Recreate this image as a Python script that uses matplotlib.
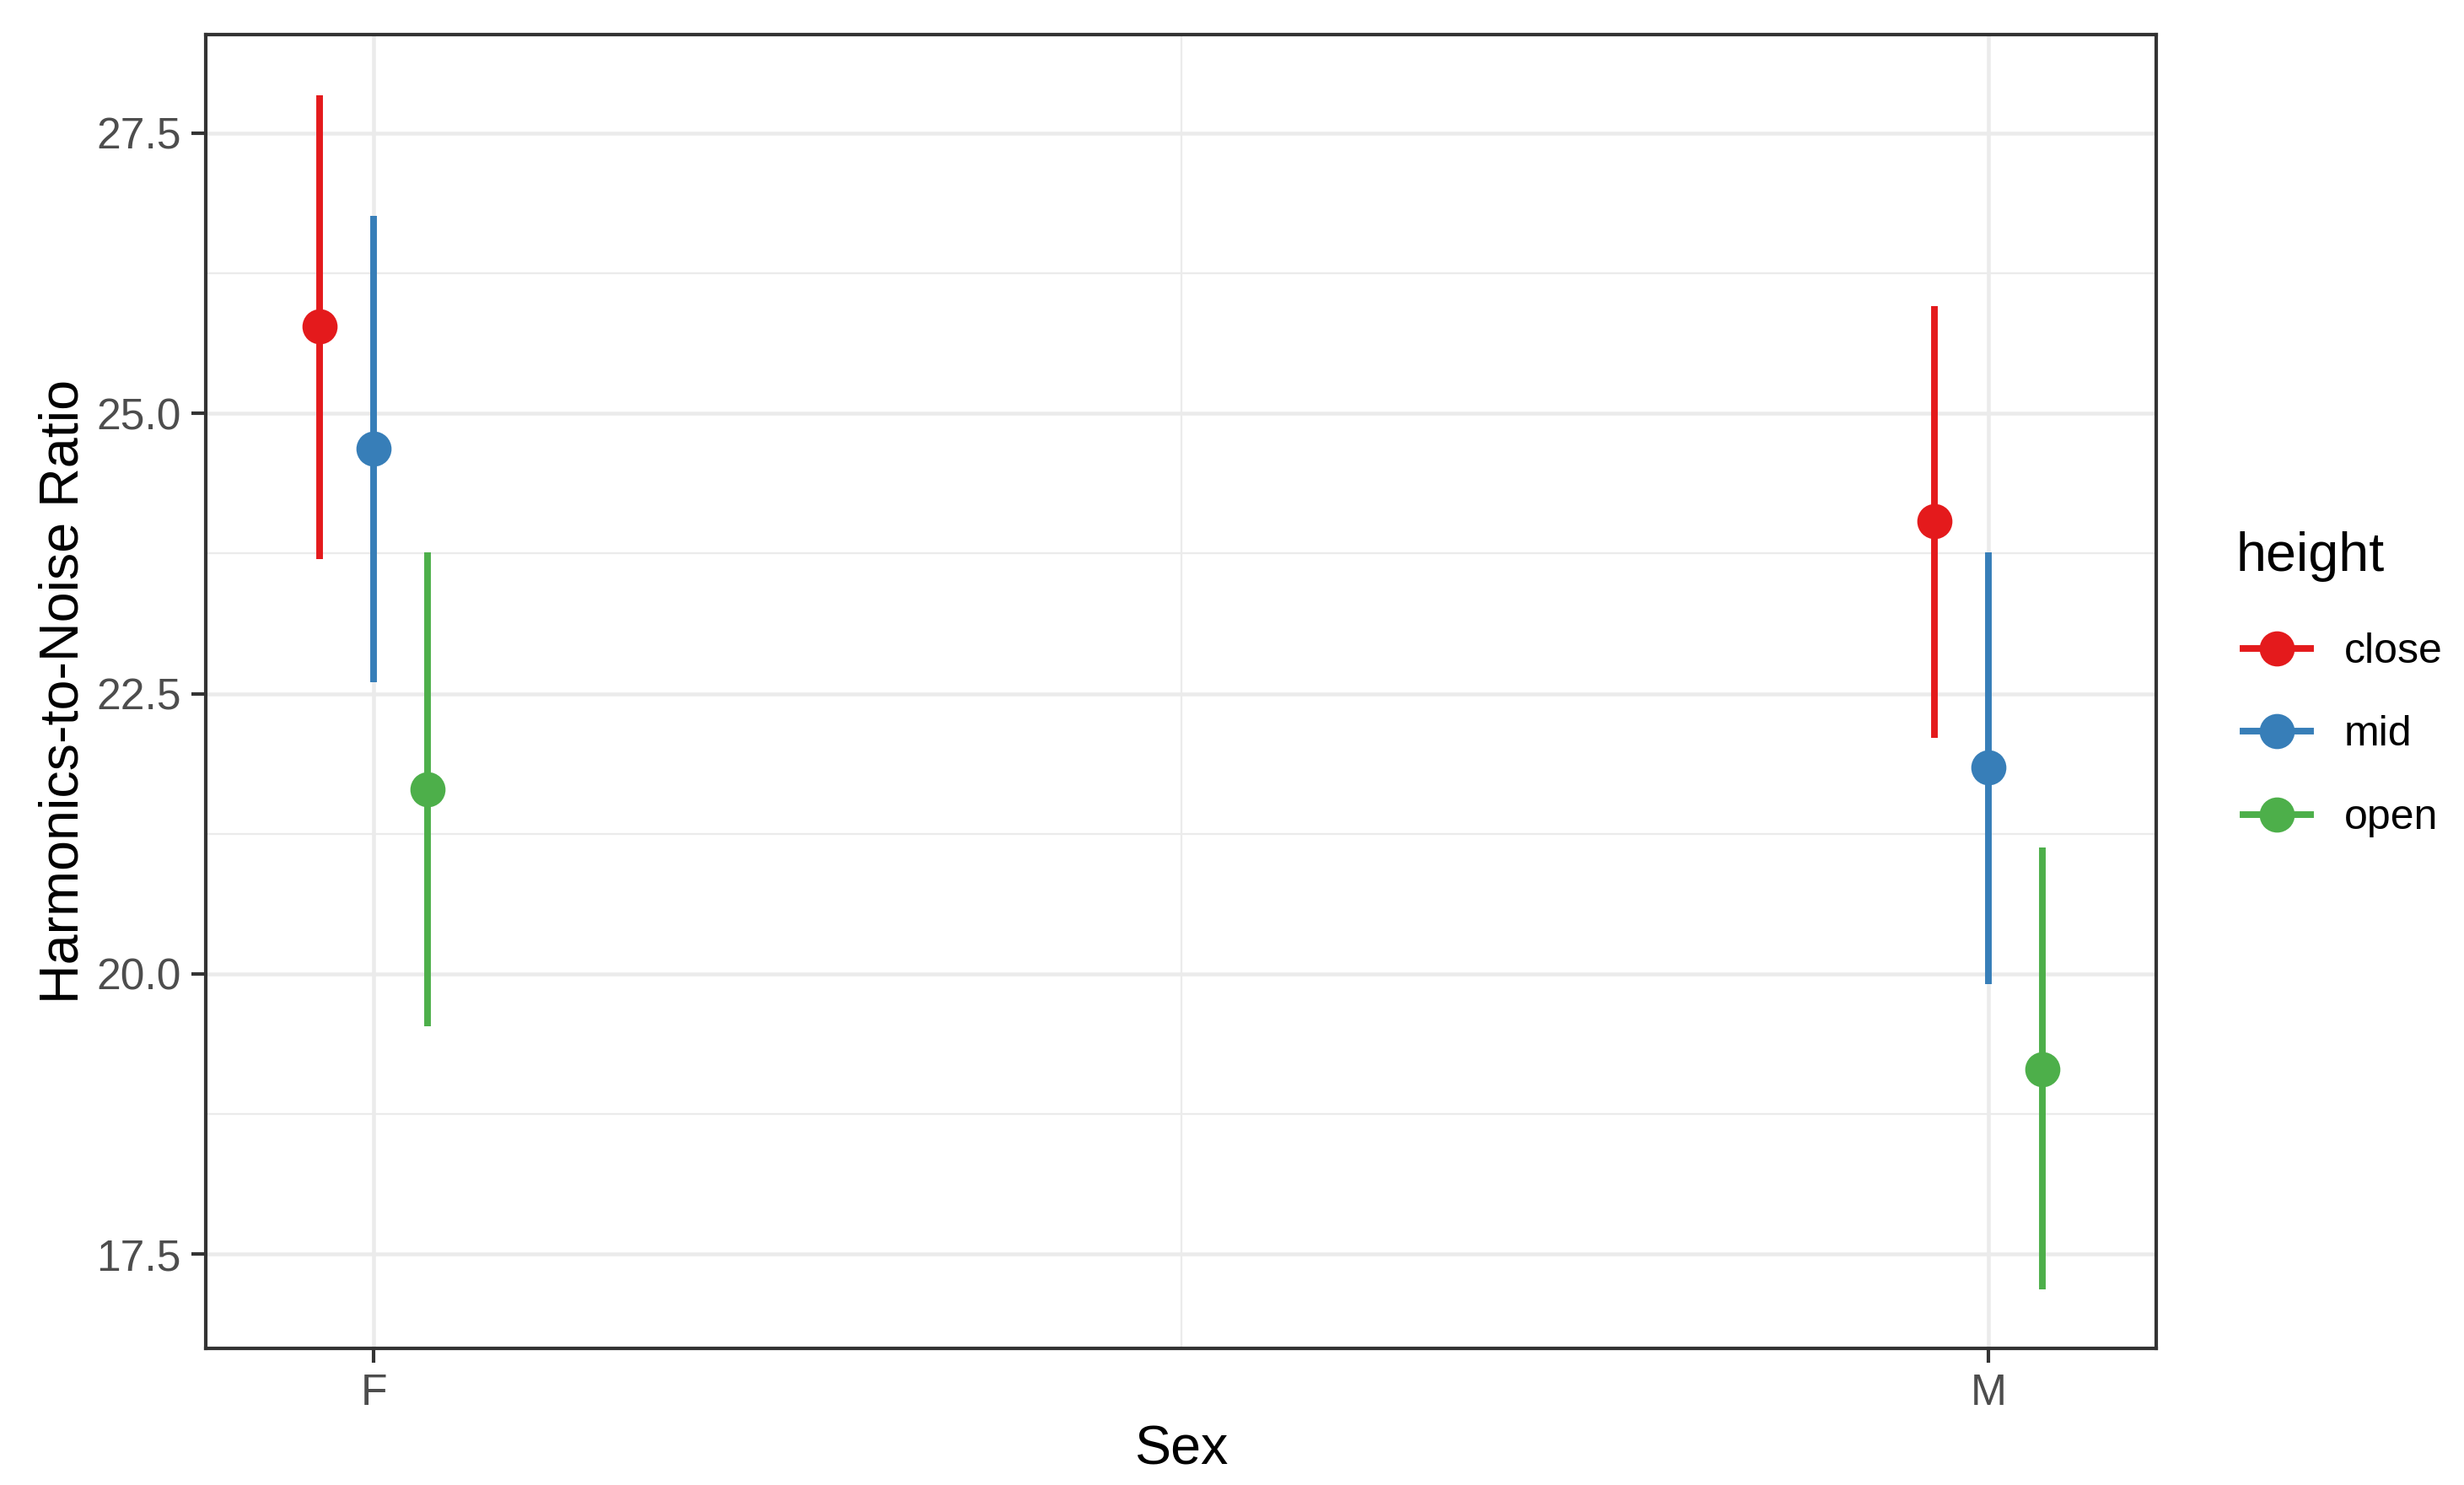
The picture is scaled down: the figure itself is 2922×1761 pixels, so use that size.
import numpy as np
import matplotlib.pyplot as plt
from matplotlib.lines import Line2D

plt.rcParams['font.family'] = ['Liberation Sans', 'DejaVu Sans']

sexes = ['F', 'M']
heights = ['close', 'mid', 'open']
colors = ['#E41A1C', '#377EB8', '#4DAF4A']

# mean, lower, upper per height, for F and M
hnr_mean = {'close': [25.78, 24.04], 'mid': [24.69, 21.84], 'open': [21.65, 19.15]}
hnr_low = {'close': [23.70, 22.11], 'mid': [22.60, 19.91], 'open': [19.53, 17.19]}
hnr_high = {'close': [27.84, 25.96], 'mid': [26.76, 23.76], 'open': [23.76, 21.13]}

fig = plt.figure(figsize=(2922 / 300, 1761 / 300), dpi=300)
ax = fig.add_axes([244 / 2922, 1 - 1599 / 1761, (2557 - 244) / 2922, (1599 - 41) / 1761])

xpos = np.arange(1, len(sexes) + 1)
dodge = 0.0333
for i, h in enumerate(heights):
    x = xpos + (i - 1) * dodge
    ax.vlines(x, hnr_low[h], hnr_high[h], color=colors[i], lw=1.9, zorder=3)
    ax.plot(x, hnr_mean[h], 'o', color=colors[i], ms=9, zorder=4)

ax.set_xlim(0.896, 2.104)
ax.set_ylim(16.66, 28.38)
ax.set_xticks(xpos)
ax.set_xticklabels(sexes)
ax.set_yticks([17.5, 20.0, 22.5, 25.0, 27.5])
ax.set_yticklabels(['17.5', '20.0', '22.5', '25.0', '27.5'])
ax.set_yticks([18.75, 21.25, 23.75, 26.25], minor=True)
ax.set_xticks([1.5], minor=True)
ax.grid(True, which='major', color='#EBEBEB', lw=1.1, zorder=0)
ax.grid(True, which='minor', color='#EBEBEB', lw=0.55, zorder=0)
ax.tick_params(which='minor', length=0)
ax.tick_params(which='major', length=4, width=1.0, color='#333333',
               labelsize=12.4, labelcolor='#4D4D4D', pad=3)
for s in ax.spines.values():
    s.set_color('#333333')
    s.set_linewidth(1.0)
ax.set_axisbelow(True)

ax.set_xlabel('Sex', fontsize=15.5, labelpad=3)
ax.set_ylabel('Harmonics-to-Noise Ratio', fontsize=15.5, labelpad=2)

fig.text(2651 / 2922, 1 - 660 / 1761, 'height', fontsize=15.5, ha='left', va='center')
handles = [Line2D([0], [0], color=c, lw=1.9, marker='o', ms=9) for c in colors]
leg = fig.legend(handles, heights, loc='upper left',
                 bbox_to_anchor=(2640 / 2922, 1 - 730 / 1761), frameon=False,
                 fontsize=12, handlelength=1.6,
                 labelspacing=1.05, handletextpad=0.8, borderaxespad=0)

fig.savefig('out.png', dpi=300)
